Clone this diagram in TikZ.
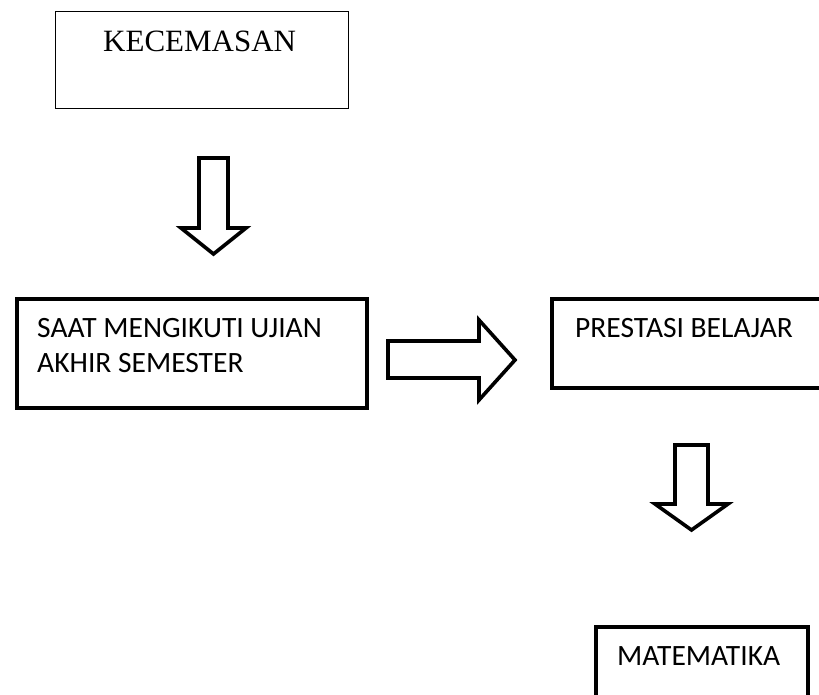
\documentclass[tikz,border=0pt]{standalone}
\usepackage{fontspec}
\setmainfont{Carlito}
\newfontfamily\serifface{Liberation Serif}
\newfontfamily\calface{Carlito}
\begin{document}
\begin{tikzpicture}[x=1pt,y=-1pt,
  thinbox/.style={draw=black,line width=1.3pt,fill=white,rectangle,inner sep=0pt,anchor=north west},
  thickbox/.style={draw=black,line width=4pt,fill=white,rectangle,inner sep=0pt,anchor=north west},
  blockarrow/.style={draw=black,line width=3.6pt,fill=white,line join=miter,miter limit=10},
  serlabel/.style={inner sep=0pt,anchor=base west,font=\serifface\fontsize{31}{37}\selectfont},
  callabel/.style={inner sep=0pt,anchor=base west,font=\calface\fontsize{29.5}{35}\selectfont}
]
\useasboundingbox (0,0) rectangle (819,695);
\clip (0,0) rectangle (819,695);
\fill[white] (0,0) rectangle (819,695);

% boxes
\node[thinbox,minimum width=293pt,minimum height=97pt] (kec) at (55,11) {};
\node[thickbox,minimum width=350pt,minimum height=109pt] (saat) at (15,297) {};
\node[thickbox,minimum width=290pt,minimum height=89pt] (pres) at (550,297) {};
\node[thickbox,minimum width=212pt,minimum height=100pt] (mat) at (594,625) {};

% texts
\node[serlabel] (kect) at (103,52) {KECEMASAN};
\node[callabel] (saat1) at (37,337) {SAAT MENGIKUTI UJIAN};
\node[callabel] (saat2) at (37,372) {AKHIR SEMESTER};
\node[callabel] (prest) at (575,337) {PRESTASI BELAJAR};
\node[callabel] (matt) at (617,665) {MATEMATIKA};

% block arrows
\draw[blockarrow] (199,158) -- (228,158) -- (228,228) -- (246,228) -- (213.5,254) -- (181,228) -- (199,228) -- cycle;
\draw[blockarrow] (388,341) -- (479,341) -- (479,320) -- (515,360) -- (479,400) -- (479,378) -- (388,378) -- cycle;
\draw[blockarrow] (675,445) -- (708,445) -- (708,504) -- (728,504) -- (691.5,530) -- (655,504) -- (675,504) -- cycle;
\end{tikzpicture}
\end{document}
